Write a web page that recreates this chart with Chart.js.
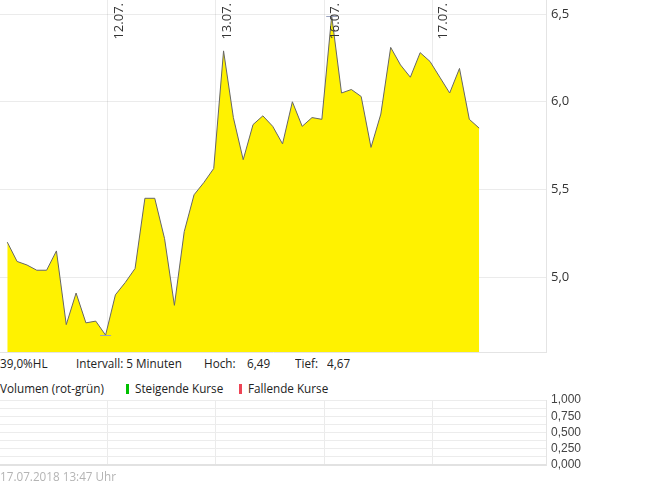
<!DOCTYPE html>
<html>
<head>
<meta charset="utf-8">
<script src="https://cdn.jsdelivr.net/npm/chart.js@4.4.0/dist/chart.umd.min.js"></script>
<style>
    html, body { margin: 0; padding: 0; background: #fff; }
    body { width: 645px; height: 483px; position: relative; overflow: hidden; font-family: "Open Sans", sans-serif; }
    #priceBox { position: absolute; left: 0; top: 0; width: 645px; height: 353px; }
    #volumeBox { position: absolute; left: 0; top: 392px; width: 645px; height: 80px; }
    .txt { position: absolute; font-size: 13px; line-height: 16px; color: #222; white-space: nowrap;
           transform: scaleX(0.9); transform-origin: 0 0; }
    .bar { position: absolute; width: 3px; height: 10px; }
    .foot { position: absolute; left: 0; top: 468px; font-size: 13px; line-height: 16px; color: #b4b4b4; white-space: nowrap;
            transform: scaleX(0.9); transform-origin: 0 0; }
</style>
</head>
<body>
<div id="priceBox"><canvas id="priceChart"></canvas></div>

<span class="txt" style="left:0; top:355px;">39,0%HL</span>
<span class="txt" style="left:76px; top:355px;">Intervall: 5 Minuten</span>
<span class="txt" style="left:204px; top:355px;">Hoch:</span>
<span class="txt" style="left:247px; top:355px;">6,49</span>
<span class="txt" style="left:295px; top:355px;">Tief:</span>
<span class="txt" style="left:327px; top:355px;">4,67</span>

<span class="txt" style="left:0; top:380px;">Volumen (rot-grün)</span>
<span class="bar" style="left:126px; top:384px; background:#00c000;"></span>
<span class="txt" style="left:135px; top:380px;">Steigende Kurse</span>
<span class="bar" style="left:239px; top:384px; background:#ee4455;"></span>
<span class="txt" style="left:248px; top:380px;">Fallende Kurse</span>

<div id="volumeBox"><canvas id="volumeChart"></canvas></div>
<div class="foot">17.07.2018 13:47 Uhr</div>

<script>
// price data, one value per interval
const prices = [
    5.20, 5.09, 5.07, 5.04, 5.04, 5.15, 4.73, 4.91, 4.74, 4.75, 4.67,
    4.90, 4.97, 5.05, 5.45, 5.45, 5.22, 4.84, 5.26, 5.47, 5.54, 5.62,
    6.29, 5.91, 5.67, 5.87, 5.92, 5.86, 5.76, 6.00, 5.86, 5.91, 5.90,
    6.49, 6.05, 6.07, 6.03, 5.74, 5.93, 6.31, 6.21, 6.14, 6.28, 6.23,
    6.14, 6.05, 6.19, 5.90, 5.85
];
const volumes = [];

// day separators (in interval units) and their labels
const dayTicks = [10.24, 21.23, 32.22, 43.21];
const dayLabels = ['12.07.', '13.07.', '16.07.', '17.07.'];
const priceTicks = [5.0, 5.5, 6.0, 6.5];
const volumeTicks = [0, 0.125, 0.25, 0.375, 0.5, 0.625, 0.75, 0.875, 1];

const xMin = -0.74;
const xMax = 54.8;
const priceMin = 4.574;
const priceMax = 6.58;

const gridColor = 'rgba(0, 0, 0, 0.08)';
const borderColor = '#e4e4e4';

function fmtComma(v, digits) {
    return v.toFixed(digits).replace('.', ',');
}

function setTicks(values) {
    return function (scale) {
        scale.ticks = values.map(v => ({ value: v }));
    };
}

// vertical day labels drawn inside the plot
const dayLabelPlugin = {
    id: 'dayLabels',
    afterDraw(chart) {
        const ctx = chart.ctx;
        const x = chart.scales.x;
        ctx.save();
        ctx.font = '13px "Open Sans"';
        ctx.fillStyle = '#333';
        ctx.textAlign = 'right';
        ctx.textBaseline = 'alphabetic';
        dayTicks.forEach((v, i) => {
            const px = x.getPixelForValue(v);
            ctx.save();
            ctx.translate(px + 15, 3);
            ctx.rotate(-Math.PI / 2);
            ctx.fillText(dayLabels[i], 0, 0);
            ctx.restore();
        });
        ctx.restore();
    }
};

// small markers at the high and the low
const extremePlugin = {
    id: 'extremes',
    afterDatasetsDraw(chart) {
        const ctx = chart.ctx;
        const x = chart.scales.x;
        const y = chart.scales.y;
        const hi = Math.max(...prices);
        const lo = Math.min(...prices);
        ctx.save();
        ctx.strokeStyle = '#9aa3bf';
        ctx.lineWidth = 1;
        [hi, lo].forEach(v => {
            const i = prices.indexOf(v);
            const px = x.getPixelForValue(i);
            const py = Math.round(y.getPixelForValue(v)) + 0.5;
            ctx.beginPath();
            ctx.moveTo(px - 5.5, py);
            ctx.lineTo(px + 5.5, py);
            ctx.stroke();
        });
        ctx.restore();
    }
};

function xScale(border) {
    return {
        type: 'linear',
        min: xMin,
        max: xMax,
        z: 1,
        offset: false,
        afterBuildTicks: setTicks(dayTicks),
        afterFit(scale) {
            scale.height = 1;
            scale.paddingLeft = 0;
            scale.paddingRight = 0;
        },
        grid: { color: gridColor, drawTicks: false, offset: false },
        border: border,
        ticks: { display: false, autoSkip: false }
    };
}

function initializePriceChart() {
    const ctx = document.getElementById('priceChart');
    new Chart(ctx, {
        type: 'line',
        data: {
            datasets: [{
                data: prices.map((v, i) => ({ x: i, y: v })),
                borderColor: '#666',
                borderWidth: 1,
                backgroundColor: '#fff200',
                fill: 'start',
                pointRadius: 0,
                tension: 0
            }]
        },
        options: {
            responsive: true,
            maintainAspectRatio: false,
            animation: false,
            layout: { padding: 0 },
            plugins: { legend: { display: false }, tooltip: { enabled: false } },
            scales: {
                x: xScale({ color: borderColor }),
                y: {
                    position: 'right',
                    min: priceMin,
                    max: priceMax,
                    z: 1,
                    afterBuildTicks: setTicks(priceTicks),
                    afterFit(scale) {
                        scale.width = 99;
                        scale.paddingTop = 0;
                        scale.paddingBottom = 0;
                    },
                    grid: { color: gridColor, drawTicks: false },
                    border: { color: borderColor },
                    ticks: {
                        padding: 5,
                        autoSkip: false,
                        color: '#333',
                        font: { family: 'Open Sans', size: 13 },
                        callback: v => fmtComma(v, 1)
                    }
                }
            }
        },
        plugins: [dayLabelPlugin, extremePlugin]
    });
}

function initializeVolumeChart() {
    const ctx = document.getElementById('volumeChart');
    new Chart(ctx, {
        type: 'line',
        data: { datasets: [{ data: volumes }] },
        options: {
            responsive: true,
            maintainAspectRatio: false,
            animation: false,
            layout: { padding: { top: 8, bottom: 6 } },
            plugins: { legend: { display: false }, tooltip: { enabled: false } },
            scales: {
                x: xScale({ color: '#e2e2e2', width: 2 }),
                y: {
                    position: 'right',
                    min: 0,
                    max: 1,
                    afterBuildTicks: setTicks(volumeTicks),
                    afterFit(scale) {
                        scale.width = 99;
                        scale.paddingTop = 0;
                        scale.paddingBottom = 0;
                    },
                    grid: { color: '#ececec', drawTicks: false },
                    border: { color: borderColor },
                    ticks: {
                        padding: 5,
                        autoSkip: false,
                        color: '#444',
                        font: { family: 'Liberation Sans', size: 12 },
                        callback: v => (Math.round(v * 1000) % 250 === 0 ? fmtComma(v, 3) : '')
                    }
                }
            }
        }
    });
}

initializePriceChart();
initializeVolumeChart();
</script>
</body>
</html>
